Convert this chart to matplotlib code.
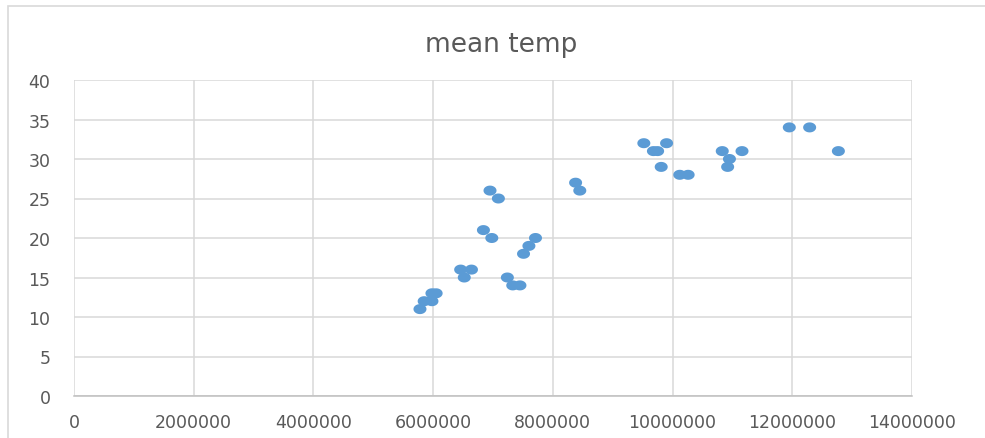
import numpy as np
import matplotlib
matplotlib.use("Agg")
import matplotlib.pyplot as plt
from matplotlib.path import Path
from matplotlib.patches import Rectangle

# population vs mean temperature
population = [5780000, 5850000, 5980000, 5980000, 6050000,
              6460000, 6640000, 6520000,
              6840000, 6980000, 6950000, 7090000,
              7240000, 7330000, 7450000,
              7510000, 7600000, 7710000,
              8380000, 8450000,
              9520000, 9680000, 9750000, 9900000, 9810000, 10120000, 10260000,
              10830000, 10950000, 10920000, 11160000,
              11950000, 12290000, 12770000]
mean_temp = [11, 12, 12, 13, 13,
             16, 16, 15,
             21, 20, 26, 25,
             15, 14, 14,
             18, 19, 20,
             27, 26,
             32, 31, 31, 32, 29, 28, 28,
             31, 30, 29, 31,
             34, 34, 31]

x_ticks = [0, 2000000, 4000000, 6000000, 8000000, 10000000, 12000000, 14000000]
y_ticks = [0, 5, 10, 15, 20, 25, 30, 35, 40]

GRID = "#d9d9d9"
TEXT = "#595959"
BLUE = "#5b9bd5"

plt.rcParams["font.family"] = ["DejaVu Sans"]

# slightly wide ellipse marker
t = np.linspace(0, 2 * np.pi, 40)
ellipse = Path(np.column_stack([1.3 * np.cos(t), np.sin(t)]), closed=True)

fig = plt.figure(figsize=(9.85, 4.39), dpi=100)
fig.patches.append(Rectangle((8 / 985, -0.1), 1.1, 1 - 7 / 439 + 0.1,
                             transform=fig.transFigure, fill=False,
                             edgecolor=GRID, linewidth=1.2))

ax = fig.add_axes([74 / 985, 42 / 439, 838 / 985, 316 / 439])
ax.scatter(population, mean_temp, marker=ellipse, s=88, color=BLUE,
           edgecolors="none", zorder=3)

ax.set_xlim(0, 14000000)
ax.set_ylim(0, 40)
ax.set_xticks(x_ticks)
ax.set_yticks(y_ticks)
ax.set_xticklabels([str(v) for v in x_ticks])
ax.grid(True, color=GRID, linewidth=1.1)
ax.set_axisbelow(True)
for side in ["top", "right", "left"]:
    ax.spines[side].set_visible(False)
ax.spines["bottom"].set_color("#bfbfbf")
ax.spines["bottom"].set_linewidth(1.1)
ax.tick_params(axis="both", length=0, colors=TEXT, labelsize=12.5)
ax.tick_params(axis="y", pad=17)
ax.tick_params(axis="x", pad=12)

fig.text(501 / 985, 1 - 45 / 439, "mean temp", ha="center", va="center",
         fontsize=19, color=TEXT)

fig.savefig("out.png", dpi=100)
